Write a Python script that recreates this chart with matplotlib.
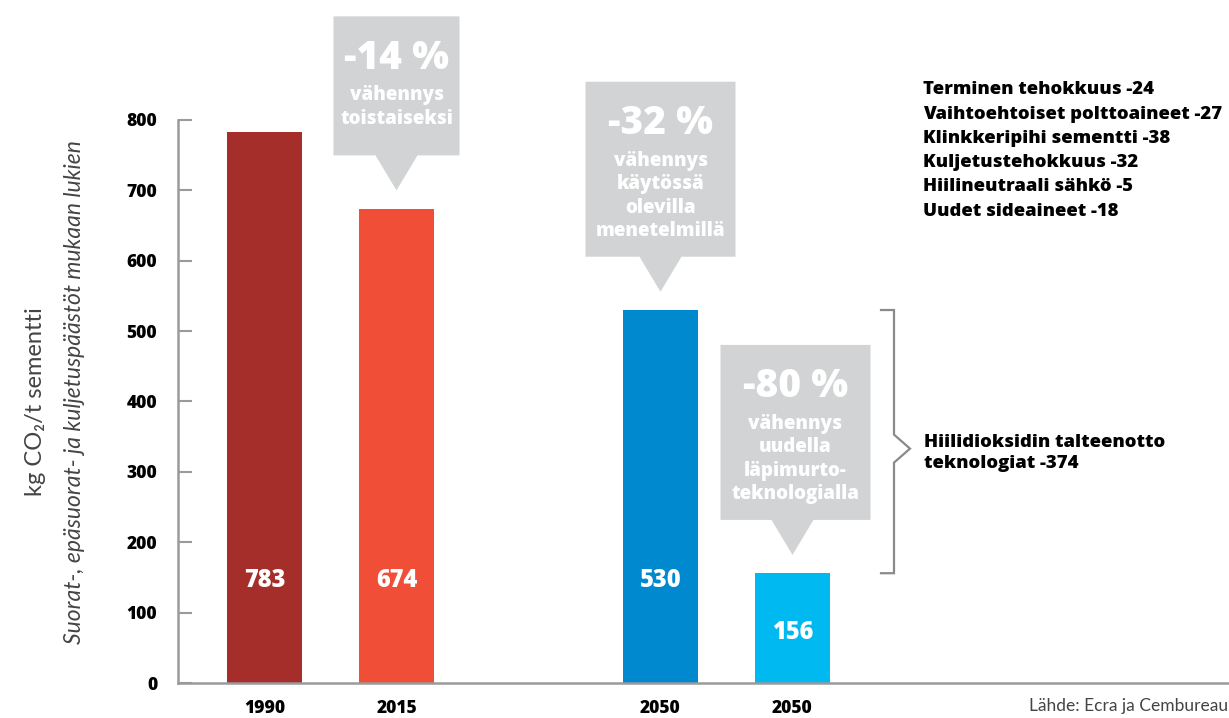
import matplotlib.pyplot as plt
import numpy as np
from matplotlib.patches import Polygon

# data
years = ["1990", "2015", "2050", "2050"]
values = [783, 674, 530, 156]
xpos = [0, 1, 3, 4]
colors = ["#A52E2B", "#F04E37", "#0089CF", "#00B9F1"]
yticks = [0, 100, 200, 300, 400, 500, 600, 700, 800]

callouts = [
    (1, "-14 %", ["vähennys", "toistaiseksi"]),
    (3, "-32 %", ["vähennys", "käytössä", "olevilla", "menetelmillä"]),
    (4, "-80 %", ["vähennys", "uudella", "läpimurto-", "teknologialla"]),
]
measures = ["Terminen tehokkuus -24", "Vaihtoehtoiset polttoaineet -27",
            "Klinkkeripihi sementti -38", "Kuljetustehokkuus -32",
            "Hiilineutraali sähkö -5", "Uudet sideaineet -18"]
ccs_text = "Hiilidioksidin talteenotto\nteknologiat -374"
source = "Lähde: Ecra ja Cembureau"

FB = "Open Sans"
BW = 800  # extra bold

W, H = 1229, 718
fig = plt.figure(figsize=(W / 100, H / 100), dpi=100)
ax_left, ax_bottom, ax_top = 178, 683, 120
ax = fig.add_axes([ax_left / W, (H - ax_bottom) / H, (W - ax_left) / W, (ax_bottom - ax_top) / H])

px_x = 132.0  # pixels per x unit
xmin = -(264.5 - ax_left) / px_x
ax.set_xlim(xmin, xmin + (W - ax_left) / px_x)
ax.set_ylim(0, 800)
px_y = (ax_bottom - ax_top) / 800.0  # pixels per y unit

bars = ax.bar(xpos, values, width=75 / px_x, color=colors)

# value labels inside bars
for x, v in zip(xpos, values):
    ax.text(x, min(145, v / 2 - 6), str(v), ha="center", va="center", color="white",
            fontsize=17, fontweight=BW, family=FB)

# axes style
for s in ["top", "right"]:
    ax.spines[s].set_visible(False)
for s in ["left", "bottom"]:
    ax.spines[s].set_color("#9a9a9a")
    ax.spines[s].set_linewidth(1.8)
ax.set_yticks(yticks)
ax.set_yticklabels([str(t) for t in yticks], fontsize=12.5, fontweight=BW, family=FB)
ax.tick_params(axis="y", direction="in", length=10, width=1.5, color="#9a9a9a", pad=15)
ax.set_xticks(xpos)
ax.set_xticklabels(years, fontsize=12.5, fontweight=BW, family=FB)
ax.tick_params(axis="x", length=0, pad=12)

# callout boxes
grey = "#D1D3D4"
for x, big, lines in callouts:
    v = values[xpos.index(x)]
    tip = v + 26
    bw = (126 if len(lines) == 2 else 150) / px_x / 2
    bh = 35 / px_y
    top_px = 139 if len(lines) == 2 else 175
    base = tip + bh
    box_top = base + top_px / px_y
    cx = x + (0 if x != 4 else 3 / px_x)
    poly = Polygon([(x, tip), (x - 21 / px_x, base), (cx - bw, base), (cx - bw, box_top),
                    (cx + bw, box_top), (cx + bw, base), (x + 21 / px_x, base)],
                   closed=True, facecolor=grey, edgecolor="none", clip_on=False)
    ax.add_patch(poly)
    y = box_top - 42 / px_y
    ax.text(cx, y, big, ha="center", va="center", color="white", fontsize=28,
            fontweight=BW, family=FB, clip_on=False)
    y -= 37 / px_y
    for ln in lines:
        ax.text(cx, y, ln, ha="center", va="center", color="white", fontsize=13.5,
                fontweight=BW, family=FB, clip_on=False)
        y -= 23.5 / px_y

# bracket spanning the CCS reduction
bx = 4 + (892 - 790.5) / px_x
bl = bx - 13 / px_x
hi, lo = values[2], values[3]
mid = (hi + lo) / 2 - 7 / px_y
ax.plot([bl, bx, bx, bx + 16 / px_x, bx, bx, bl],
        [hi, hi, mid + 14 / px_y, mid, mid - 14 / px_y, lo, lo],
        color="#8a8a8a", lw=1.6, clip_on=False, solid_joinstyle="miter")

# right-hand texts
for i, t in enumerate(measures):
    fig.text(923 / W, 1 - (90 + i * 24.2) / H, t, ha="left", va="center", fontsize=13.3,
             fontweight=BW, family=FB, color="black")
ax.text(bx + 30 / px_x, mid - 4 / px_y, ccs_text, ha="left", va="center", fontsize=13.3,
        fontweight=BW, family=FB, linespacing=1.3, clip_on=False)

# y axis labels
fig.text(36 / W, 1 - 402 / H, "kg CO₂/t sementti", rotation=90, ha="center", va="center",
         fontsize=17, family=["Lato", "DejaVu Sans"], fontweight="normal", color="#444444")
fig.text(75 / W, 1 - 392 / H, "Suorat-, epäsuorat- ja kuljetuspäästöt mukaan lukien",
         rotation=90, ha="center", va="center", fontsize=16.5, family="Lato",
         fontweight="normal", style="italic", color="#444444")

fig.text(1228 / W, 1 - 706 / H, source, ha="right", va="center", fontsize=12.5,
         family="Lato", fontweight="normal", color="#444444")

fig.savefig("out.png", dpi=100)
